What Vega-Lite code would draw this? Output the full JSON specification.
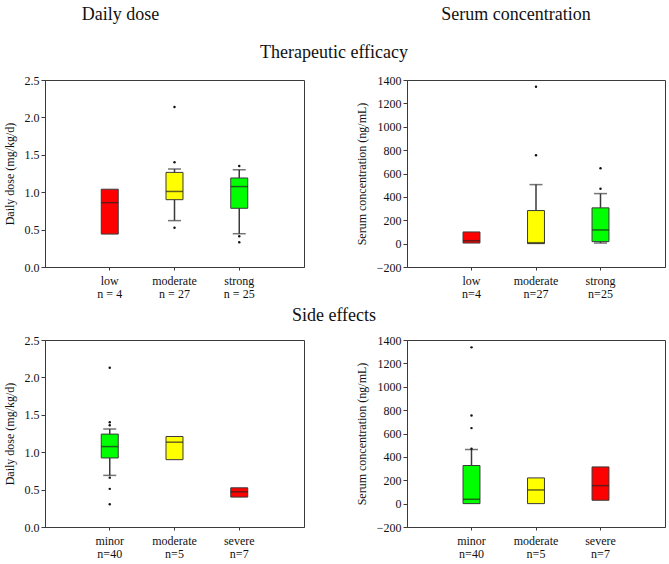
{
  "$schema": "https://vega.github.io/schema/vega-lite/v6.json",
  "padding": {"left": 2, "top": 5, "right": 4, "bottom": 0},
  "config": {
    "font": "Liberation Serif",
    "view": {"stroke": "#3a3a3a", "strokeWidth": 1},
    "axis": {"labelFont": "Liberation Serif", "labelFontSize": 12, "labelColor": "#111", "titleFont": "Liberation Serif", "titleFontSize": 12, "titleFontWeight": "normal", "titleColor": "#111", "domainColor": "#3a3a3a", "tickColor": "#3a3a3a", "tickSize": 4, "grid": false, "labelOverlap": false},
    "axisX": {"tickSize": 3},
    "title": {"font": "Liberation Serif", "fontSize": 18, "fontWeight": "normal", "color": "#111", "anchor": "middle"}
  },
  "datasets": {
    "dose_eff_box": [
      {"g": "low|n = 4", "level": "low", "q1": 0.44, "med": 0.86, "q3": 1.04, "lo": null, "hi": null},
      {"g": "moderate|n = 27", "level": "moderate", "q1": 0.9, "med": 1.01, "q3": 1.265, "lo": 0.62, "hi": 1.31},
      {"g": "strong|n = 25", "level": "strong", "q1": 0.785, "med": 1.075, "q3": 1.19, "lo": 0.445, "hi": 1.3}
    ],
    "dose_eff_out": [
      {"g": "moderate|n = 27", "v": 2.14},
      {"g": "moderate|n = 27", "v": 1.4},
      {"g": "moderate|n = 27", "v": 0.525},
      {"g": "strong|n = 25", "v": 1.35},
      {"g": "strong|n = 25", "v": 0.41},
      {"g": "strong|n = 25", "v": 0.33}
    ],
    "serum_eff_box": [
      {"g": "low|n=4", "level": "low", "q1": 5, "med": 25, "q3": 100, "lo": null, "hi": null},
      {"g": "moderate|n=27", "level": "moderate", "q1": 0, "med": 8, "q3": 283, "lo": null, "hi": 505},
      {"g": "strong|n=25", "level": "strong", "q1": 17, "med": 117, "q3": 306, "lo": 5, "hi": 428}
    ],
    "serum_eff_out": [
      {"g": "moderate|n=27", "v": 1343},
      {"g": "moderate|n=27", "v": 757},
      {"g": "strong|n=25", "v": 645},
      {"g": "strong|n=25", "v": 469}
    ],
    "dose_side_box": [
      {"g": "minor|n=40", "level": "minor", "q1": 0.923, "med": 1.075, "q3": 1.242, "lo": 0.69, "hi": 1.31},
      {"g": "moderate|n=5", "level": "moderate", "q1": 0.9, "med": 1.134, "q3": 1.21, "lo": null, "hi": null},
      {"g": "severe|n=7", "level": "severe", "q1": 0.4, "med": 0.47, "q3": 0.524, "lo": null, "hi": null}
    ],
    "dose_side_out": [
      {"g": "minor|n=40", "v": 2.13},
      {"g": "minor|n=40", "v": 1.4},
      {"g": "minor|n=40", "v": 1.36},
      {"g": "minor|n=40", "v": 0.66},
      {"g": "minor|n=40", "v": 0.51},
      {"g": "minor|n=40", "v": 0.305}
    ],
    "serum_side_box": [
      {"g": "minor|n=40", "level": "minor", "q1": 0, "med": 37, "q3": 326, "lo": null, "hi": 463},
      {"g": "moderate|n=5", "level": "moderate", "q1": 0, "med": 117, "q3": 220, "lo": null, "hi": null},
      {"g": "severe|n=7", "level": "severe", "q1": 29, "med": 154, "q3": 314, "lo": null, "hi": null}
    ],
    "serum_side_out": [
      {"g": "minor|n=40", "v": 1337},
      {"g": "minor|n=40", "v": 754},
      {"g": "minor|n=40", "v": 646},
      {"g": "minor|n=40", "v": 470}
    ]
  },
  "spacing": 6,
  "resolve": {"scale": {"x": "independent", "y": "independent"}},
  "vconcat": [
    {
      "title": {"text": "Therapeutic efficacy", "offset": -56, "anchor": "middle"},
      "spacing": 49,
      "resolve": {"scale": {"x": "independent", "y": "independent"}},
      "hconcat": [
        {
          "width": 259, "height": 187,
          "title": {"text": "Daily dose", "offset": 50, "dx": -54},
          "encoding": {"x": {"field": "g", "type": "nominal", "scale": {"type": "band", "domain": ["low|n = 4", "moderate|n = 27", "strong|n = 25"], "paddingInner": 0.7375, "paddingOuter": 0.86875}, "axis": {"title": null, "labelAngle": 0, "labelExpr": "split(datum.value, '|')", "labelLineHeight": 13, "labelPadding": 5, "labelFont": "Liberation Serif"}}},
          "layer": [
            {"data": {"name": "dose_eff_box"}, "mark": {"type": "rule", "color": "#3a3a3a", "strokeWidth": 1.5}, "encoding": {"y": {"field": "lo", "type": "quantitative", "scale": {"domain": [0, 2.5], "nice": false}, "axis": {"title": "Daily dose (mg/kg/d)", "values": [0, 0.5, 1, 1.5, 2, 2.5], "format": ".1f", "titlePadding": 8, "labelFont": "Liberation Serif"}}, "y2": {"field": "hi"}}},
            {"data": {"name": "dose_eff_box"}, "mark": {"type": "tick", "color": "#3a3a3a", "size": 13, "thickness": 1.5}, "encoding": {"y": {"field": "lo", "type": "quantitative", "axis": {"title": "Daily dose (mg/kg/d)", "values": [0, 0.5, 1, 1.5, 2, 2.5], "format": ".1f", "titlePadding": 8, "labelFont": "Liberation Serif"}}}},
            {"data": {"name": "dose_eff_box"}, "mark": {"type": "tick", "color": "#3a3a3a", "size": 13, "thickness": 1.5}, "encoding": {"y": {"field": "hi", "type": "quantitative", "axis": {"title": "Daily dose (mg/kg/d)", "values": [0, 0.5, 1, 1.5, 2, 2.5], "format": ".1f", "titlePadding": 8, "labelFont": "Liberation Serif"}}}},
            {"data": {"name": "dose_eff_box"}, "mark": {"type": "bar", "stroke": "#3a3a3a", "strokeWidth": 1}, "encoding": {"y": {"field": "q1", "type": "quantitative", "axis": {"title": "Daily dose (mg/kg/d)", "values": [0, 0.5, 1, 1.5, 2, 2.5], "format": ".1f", "titlePadding": 8, "labelFont": "Liberation Serif"}}, "y2": {"field": "q3"}, "fill": {"field": "level", "type": "nominal", "scale": {"domain": ["low", "moderate", "strong", "minor", "severe"], "range": ["#ff0000", "#ffff00", "#00ff00", "#00ff00", "#ff0000"]}, "legend": null}}},
            {"data": {"name": "dose_eff_box"}, "mark": {"type": "tick", "color": "#222", "size": 17, "thickness": 1.5}, "encoding": {"y": {"field": "med", "type": "quantitative", "axis": {"title": "Daily dose (mg/kg/d)", "values": [0, 0.5, 1, 1.5, 2, 2.5], "format": ".1f", "titlePadding": 8, "labelFont": "Liberation Serif"}}}},
            {"data": {"name": "dose_eff_out"}, "mark": {"type": "circle", "color": "#111", "size": 6, "opacity": 1}, "encoding": {"y": {"field": "v", "type": "quantitative", "axis": {"title": "Daily dose (mg/kg/d)", "values": [0, 0.5, 1, 1.5, 2, 2.5], "format": ".1f", "titlePadding": 8, "labelFont": "Liberation Serif"}}}}
          ]
        },
        {
          "width": 258, "height": 187,
          "title": {"text": "Serum concentration", "offset": 50, "dx": -20},
          "encoding": {"x": {"field": "g", "type": "nominal", "scale": {"type": "band", "domain": ["low|n=4", "moderate|n=27", "strong|n=25"], "paddingInner": 0.7375, "paddingOuter": 0.86875}, "axis": {"title": null, "labelAngle": 0, "labelExpr": "split(datum.value, '|')", "labelLineHeight": 13, "labelPadding": 5, "labelFont": "Liberation Serif"}}},
          "layer": [
            {"data": {"name": "serum_eff_box"}, "mark": {"type": "rule", "color": "#3a3a3a", "strokeWidth": 1.5}, "encoding": {"y": {"field": "q3", "type": "quantitative", "scale": {"domain": [-200, 1400], "nice": false}, "axis": {"title": "Serum concentration (ng/mL)", "values": [-200, 0, 200, 400, 600, 800, 1000, 1200, 1400], "format": "d", "titlePadding": 8, "labelFont": "Liberation Serif"}}, "y2": {"field": "hi"}}},
            {"data": {"name": "serum_eff_box"}, "mark": {"type": "rule", "color": "#3a3a3a", "strokeWidth": 1.5}, "encoding": {"y": {"field": "lo", "type": "quantitative", "axis": {"title": "Serum concentration (ng/mL)", "values": [-200, 0, 200, 400, 600, 800, 1000, 1200, 1400], "format": "d", "titlePadding": 8, "labelFont": "Liberation Serif"}}, "y2": {"field": "q1"}}},
            {"data": {"name": "serum_eff_box"}, "mark": {"type": "tick", "color": "#3a3a3a", "size": 13, "thickness": 1.5}, "encoding": {"y": {"field": "lo", "type": "quantitative", "axis": {"title": "Serum concentration (ng/mL)", "values": [-200, 0, 200, 400, 600, 800, 1000, 1200, 1400], "format": "d", "titlePadding": 8, "labelFont": "Liberation Serif"}}}},
            {"data": {"name": "serum_eff_box"}, "mark": {"type": "tick", "color": "#3a3a3a", "size": 13, "thickness": 1.5}, "encoding": {"y": {"field": "hi", "type": "quantitative", "axis": {"title": "Serum concentration (ng/mL)", "values": [-200, 0, 200, 400, 600, 800, 1000, 1200, 1400], "format": "d", "titlePadding": 8, "labelFont": "Liberation Serif"}}}},
            {"data": {"name": "serum_eff_box"}, "mark": {"type": "bar", "stroke": "#3a3a3a", "strokeWidth": 1}, "encoding": {"y": {"field": "q1", "type": "quantitative", "axis": {"title": "Serum concentration (ng/mL)", "values": [-200, 0, 200, 400, 600, 800, 1000, 1200, 1400], "format": "d", "titlePadding": 8, "labelFont": "Liberation Serif"}}, "y2": {"field": "q3"}, "fill": {"field": "level", "type": "nominal", "scale": {"domain": ["low", "moderate", "strong", "minor", "severe"], "range": ["#ff0000", "#ffff00", "#00ff00", "#00ff00", "#ff0000"]}, "legend": null}}},
            {"data": {"name": "serum_eff_box"}, "mark": {"type": "tick", "color": "#222", "size": 17, "thickness": 1.5}, "encoding": {"y": {"field": "med", "type": "quantitative", "axis": {"title": "Serum concentration (ng/mL)", "values": [-200, 0, 200, 400, 600, 800, 1000, 1200, 1400], "format": "d", "titlePadding": 8, "labelFont": "Liberation Serif"}}}},
            {"data": {"name": "serum_eff_out"}, "mark": {"type": "circle", "color": "#111", "size": 6, "opacity": 1}, "encoding": {"y": {"field": "v", "type": "quantitative", "axis": {"title": "Serum concentration (ng/mL)", "values": [-200, 0, 200, 400, 600, 800, 1000, 1200, 1400], "format": "d", "titlePadding": 8, "labelFont": "Liberation Serif"}}}}
          ]
        }
      ]
    },
    {
      "title": {"text": "Side effects", "offset": 9, "anchor": "middle"},
      "spacing": 49,
      "resolve": {"scale": {"x": "independent", "y": "independent"}},
      "hconcat": [
        {
          "width": 259, "height": 187,
          "encoding": {"x": {"field": "g", "type": "nominal", "scale": {"type": "band", "domain": ["minor|n=40", "moderate|n=5", "severe|n=7"], "paddingInner": 0.7375, "paddingOuter": 0.86875}, "axis": {"title": null, "labelAngle": 0, "labelExpr": "split(datum.value, '|')", "labelLineHeight": 13, "labelPadding": 5, "labelFont": "Liberation Serif"}}},
          "layer": [
            {"data": {"name": "dose_side_box"}, "mark": {"type": "rule", "color": "#3a3a3a", "strokeWidth": 1.5}, "encoding": {"y": {"field": "lo", "type": "quantitative", "scale": {"domain": [0, 2.5], "nice": false}, "axis": {"title": "Daily dose (mg/kg/d)", "values": [0, 0.5, 1, 1.5, 2, 2.5], "format": ".1f", "titlePadding": 8, "labelFont": "Liberation Serif"}}, "y2": {"field": "hi"}}},
            {"data": {"name": "dose_side_box"}, "mark": {"type": "tick", "color": "#3a3a3a", "size": 13, "thickness": 1.5}, "encoding": {"y": {"field": "lo", "type": "quantitative", "axis": {"title": "Daily dose (mg/kg/d)", "values": [0, 0.5, 1, 1.5, 2, 2.5], "format": ".1f", "titlePadding": 8, "labelFont": "Liberation Serif"}}}},
            {"data": {"name": "dose_side_box"}, "mark": {"type": "tick", "color": "#3a3a3a", "size": 13, "thickness": 1.5}, "encoding": {"y": {"field": "hi", "type": "quantitative", "axis": {"title": "Daily dose (mg/kg/d)", "values": [0, 0.5, 1, 1.5, 2, 2.5], "format": ".1f", "titlePadding": 8, "labelFont": "Liberation Serif"}}}},
            {"data": {"name": "dose_side_box"}, "mark": {"type": "bar", "stroke": "#3a3a3a", "strokeWidth": 1}, "encoding": {"y": {"field": "q1", "type": "quantitative", "axis": {"title": "Daily dose (mg/kg/d)", "values": [0, 0.5, 1, 1.5, 2, 2.5], "format": ".1f", "titlePadding": 8, "labelFont": "Liberation Serif"}}, "y2": {"field": "q3"}, "fill": {"field": "level", "type": "nominal", "scale": {"domain": ["low", "moderate", "strong", "minor", "severe"], "range": ["#ff0000", "#ffff00", "#00ff00", "#00ff00", "#ff0000"]}, "legend": null}}},
            {"data": {"name": "dose_side_box"}, "mark": {"type": "tick", "color": "#222", "size": 17, "thickness": 1.5}, "encoding": {"y": {"field": "med", "type": "quantitative", "axis": {"title": "Daily dose (mg/kg/d)", "values": [0, 0.5, 1, 1.5, 2, 2.5], "format": ".1f", "titlePadding": 8, "labelFont": "Liberation Serif"}}}},
            {"data": {"name": "dose_side_out"}, "mark": {"type": "circle", "color": "#111", "size": 6, "opacity": 1}, "encoding": {"y": {"field": "v", "type": "quantitative", "axis": {"title": "Daily dose (mg/kg/d)", "values": [0, 0.5, 1, 1.5, 2, 2.5], "format": ".1f", "titlePadding": 8, "labelFont": "Liberation Serif"}}}}
          ]
        },
        {
          "width": 258, "height": 187,
          "encoding": {"x": {"field": "g", "type": "nominal", "scale": {"type": "band", "domain": ["minor|n=40", "moderate|n=5", "severe|n=7"], "paddingInner": 0.7375, "paddingOuter": 0.86875}, "axis": {"title": null, "labelAngle": 0, "labelExpr": "split(datum.value, '|')", "labelLineHeight": 13, "labelPadding": 5, "labelFont": "Liberation Serif"}}},
          "layer": [
            {"data": {"name": "serum_side_box"}, "mark": {"type": "rule", "color": "#3a3a3a", "strokeWidth": 1.5}, "encoding": {"y": {"field": "q3", "type": "quantitative", "scale": {"domain": [-200, 1400], "nice": false}, "axis": {"title": "Serum concentration (ng/mL)", "values": [-200, 0, 200, 400, 600, 800, 1000, 1200, 1400], "format": "d", "titlePadding": 8, "labelFont": "Liberation Serif"}}, "y2": {"field": "hi"}}},
            {"data": {"name": "serum_side_box"}, "mark": {"type": "tick", "color": "#3a3a3a", "size": 13, "thickness": 1.5}, "encoding": {"y": {"field": "hi", "type": "quantitative", "axis": {"title": "Serum concentration (ng/mL)", "values": [-200, 0, 200, 400, 600, 800, 1000, 1200, 1400], "format": "d", "titlePadding": 8, "labelFont": "Liberation Serif"}}}},
            {"data": {"name": "serum_side_box"}, "mark": {"type": "bar", "stroke": "#3a3a3a", "strokeWidth": 1}, "encoding": {"y": {"field": "q1", "type": "quantitative", "axis": {"title": "Serum concentration (ng/mL)", "values": [-200, 0, 200, 400, 600, 800, 1000, 1200, 1400], "format": "d", "titlePadding": 8, "labelFont": "Liberation Serif"}}, "y2": {"field": "q3"}, "fill": {"field": "level", "type": "nominal", "scale": {"domain": ["low", "moderate", "strong", "minor", "severe"], "range": ["#ff0000", "#ffff00", "#00ff00", "#00ff00", "#ff0000"]}, "legend": null}}},
            {"data": {"name": "serum_side_box"}, "mark": {"type": "tick", "color": "#222", "size": 17, "thickness": 1.5}, "encoding": {"y": {"field": "med", "type": "quantitative", "axis": {"title": "Serum concentration (ng/mL)", "values": [-200, 0, 200, 400, 600, 800, 1000, 1200, 1400], "format": "d", "titlePadding": 8, "labelFont": "Liberation Serif"}}}},
            {"data": {"name": "serum_side_out"}, "mark": {"type": "circle", "color": "#111", "size": 6, "opacity": 1}, "encoding": {"y": {"field": "v", "type": "quantitative", "axis": {"title": "Serum concentration (ng/mL)", "values": [-200, 0, 200, 400, 600, 800, 1000, 1200, 1400], "format": "d", "titlePadding": 8, "labelFont": "Liberation Serif"}}}}
          ]
        }
      ]
    }
  ]
}
